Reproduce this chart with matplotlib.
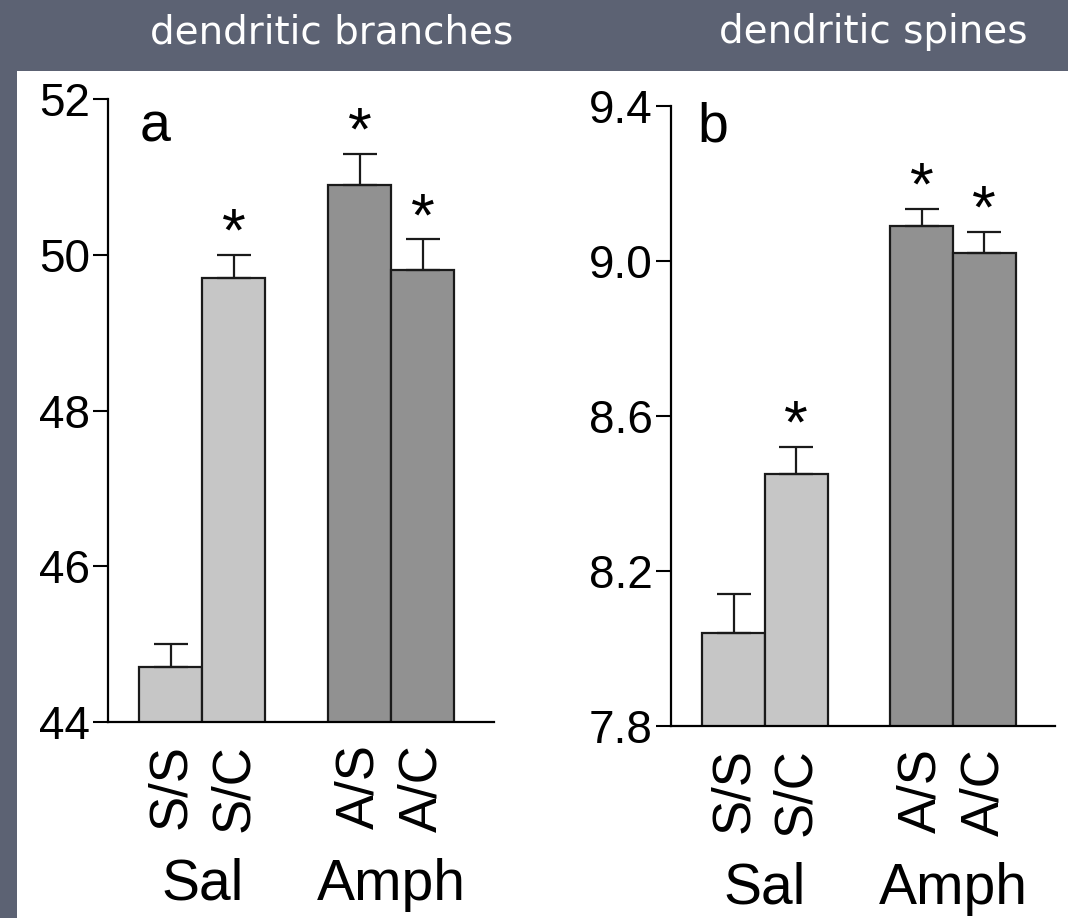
import matplotlib
matplotlib.use("Agg")
import matplotlib.pyplot as plt
from matplotlib.patches import Rectangle

# data
groups = ["Sal", "Amph"]
conditions = ["S/S", "S/C", "A/S", "A/C"]
positions = [1, 2, 4, 5]

branches = [44.7, 49.7, 50.9, 49.8]
branches_err = [0.3, 0.3, 0.4, 0.4]
branches_sig = [False, True, True, True]

spines = [8.04, 8.45, 9.09, 9.02]
spines_err = [0.10, 0.07, 0.045, 0.055]
spines_sig = [False, True, True, True]

titles = ["dendritic branches", "dendritic spines"]
letters = ["a", "b"]

light = "#c6c6c6"
dark = "#919191"
colors = [light, light, dark, dark]

plt.rcParams["font.family"] = ["Liberation Sans", "DejaVu Sans"]

fig = plt.figure(figsize=(10.68, 9.18), dpi=100)
fig.patch.set_facecolor("#5c6273")
# white slide area
fig.patches.append(Rectangle((17 / 1068, 0), 1 - 17 / 1068, 1 - 71 / 918,
                             transform=fig.transFigure, facecolor="white",
                             edgecolor="none", zorder=-5))

ax_a = fig.add_axes([108 / 1068, 1 - 722 / 918, 386 / 1068, 623 / 918])
ax_b = fig.add_axes([671 / 1068, 1 - 726 / 918, 384 / 1068, 620 / 918])


def panel(ax, vals, errs, sig, ylim, yticks, fmt, letter, lx, ly):
    ax.set_facecolor("none")
    ax.bar(positions, vals, width=1.0, color=colors, edgecolor="#1a1a1a",
           linewidth=1.6, zorder=2)
    ax.errorbar(positions, vals, yerr=[[0] * 4, errs], fmt="none",
                ecolor="#1a1a1a", elinewidth=1.6, capsize=12, capthick=1.6,
                zorder=3)
    for x, v, e, s in zip(positions, vals, errs, sig):
        if s:
            ax.annotate("*", (x, v + e), xytext=(0, 3), textcoords="offset points",
                        ha="center", va="baseline", fontsize=44)
    ax.set_xlim(0, 6.13)
    ax.set_ylim(*ylim)
    ax.set_yticks(yticks)
    ax.set_yticklabels([fmt.format(t) for t in yticks])
    ax.set_xticks(positions)
    ax.set_xticklabels(conditions, rotation=90, fontsize=38)
    ax.tick_params(axis="x", length=0, pad=16)
    ax.tick_params(axis="y", direction="out", length=11, width=1.5,
                   labelsize=33, pad=2)
    for side in ["top", "right"]:
        ax.spines[side].set_visible(False)
    for side in ["left", "bottom"]:
        ax.spines[side].set_linewidth(1.6)
    ax.text(lx, ly, letter, transform=ax.transAxes, fontsize=40,
            va="baseline", ha="left")
    # group labels under the pairs
    for gx, g in zip([1.5, 4.5], groups):
        ax.annotate(g, (gx, 0), xycoords=("data", "axes fraction"),
                    xytext=(0, -117), textcoords="offset points",
                    ha="center", va="center", fontsize=41,
                    annotation_clip=False)


panel(ax_a, branches, branches_err, branches_sig, (44, 52),
      [44, 46, 48, 50, 52], "{:.0f}", letters[0], 0.083, 0.931)
panel(ax_b, spines, spines_err, spines_sig, (7.8, 9.4),
      [7.8, 8.2, 8.6, 9.0, 9.4], "{:.1f}", letters[1], 0.07, 0.942)

fig.text(332 / 1068, 1 - 32 / 918, titles[0], color="white", fontsize=28,
         ha="center", va="center", family="DejaVu Sans")
fig.text(873 / 1068, 1 - 32 / 918, titles[1], color="white", fontsize=28,
         ha="center", va="center", family="DejaVu Sans")

fig.savefig("out.png", dpi=100, facecolor=fig.get_facecolor())
